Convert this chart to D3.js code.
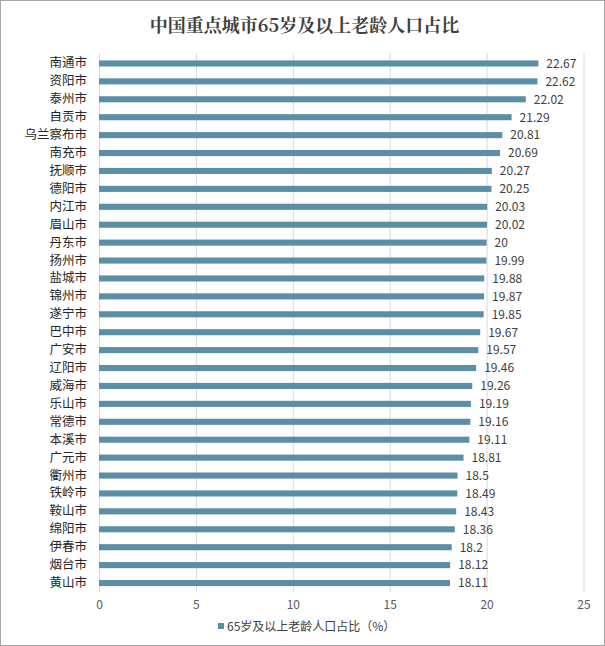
<!DOCTYPE html>
<html><head><meta charset="utf-8">
<script src="https://cdn.jsdelivr.net/npm/d3@7"></script>
<style>
html,body{margin:0;padding:0;background:#fff;}
svg{display:block;}
</style></head>
<body>
<script>
const categories = ["南通市","资阳市","泰州市","自贡市","乌兰察布市","南充市","抚顺市","德阳市","内江市","眉山市","丹东市","扬州市","盐城市","锦州市","遂宁市","巴中市","广安市","辽阳市","威海市","乐山市","常德市","本溪市","广元市","衢州市","铁岭市","鞍山市","绵阳市","伊春市","烟台市","黄山市"];
const values = [22.67,22.62,22.02,21.29,20.81,20.69,20.27,20.25,20.03,20.02,20,19.99,19.88,19.87,19.85,19.67,19.57,19.46,19.26,19.19,19.16,19.11,18.81,18.5,18.49,18.43,18.36,18.2,18.12,18.11];
const xTicks = [0,5,10,15,20,25];
const title = "中国重点城市65岁及以上老龄人口占比";
const seriesName = "65岁及以上老龄人口占比（%）";

const W = 605, H = 646;
const font = "'Noto Sans CJK SC','Noto Sans',sans-serif";
const barColor = "#5b8fa7";
const svg = d3.select("body").append("svg").attr("width", W).attr("height", H);
svg.append("rect").attr("x",0.5).attr("y",0.5).attr("width",W-1).attr("height",H-1)
  .attr("fill","#fff").attr("stroke","#a6a6a6");

const x = d3.scaleLinear().domain([0,25]).range([99,583.5]);
const y = d3.scaleBand().domain(categories).range([54.5,592]).paddingInner(0.66).paddingOuter(0.33);

// grid
svg.append("g").selectAll("line").data(xTicks).join("line")
  .attr("x1",d=>x(d)+0.5).attr("x2",d=>x(d)+0.5).attr("y1",53).attr("y2",592)
  .attr("stroke","#d9d9d9").attr("stroke-width",1);

// bars
svg.append("g").selectAll("rect").data(values).join("rect")
  .attr("x",x(0)).attr("y",(d,i)=>y(categories[i]))
  .attr("width",d=>x(d)-x(0)).attr("height",y.bandwidth())
  .attr("fill",barColor);

// value labels
svg.append("g").selectAll("text").data(values).join("text")
  .attr("x",d=>x(d)+8).attr("y",(d,i)=>y(categories[i])+y.bandwidth()/2)
  .attr("dy","0.36em").attr("font-family",font).attr("font-size",12).attr("fill","#404040")
  .text(d=>d);

// y axis labels
const yAxis = d3.axisLeft(y).tickSize(0).tickPadding(12);
const gy = svg.append("g").attr("transform",`translate(${x(0)},0)`).call(yAxis);
gy.select(".domain").remove();
gy.selectAll("text").attr("font-family",font).attr("font-size",12.5).attr("fill","#262626");

// x axis
const xAxis = d3.axisBottom(x).tickValues(xTicks).tickSize(0).tickPadding(8);
const gx = svg.append("g").attr("transform",`translate(0,592)`).call(xAxis);
gx.select(".domain").remove();
gx.selectAll("text").attr("font-family",font).attr("font-size",12).attr("fill","#595959");

// title
svg.append("text").attr("x",W/2+2).attr("y",32).attr("text-anchor","middle")
  .attr("font-family","'Noto Serif CJK SC','Noto Sans CJK SC',serif").attr("font-weight","bold")
  .attr("font-size",18).attr("fill","#404040").text(title);

// legend
const lg = svg.append("g");
lg.append("rect").attr("x",218).attr("y",623).attr("width",6).attr("height",6).attr("fill",barColor);
lg.append("text").attr("x",227).attr("y",627).attr("dy","0.36em").attr("font-family",font)
  .attr("font-size",12).attr("fill","#404040").text(seriesName);
</script>
</body></html>
